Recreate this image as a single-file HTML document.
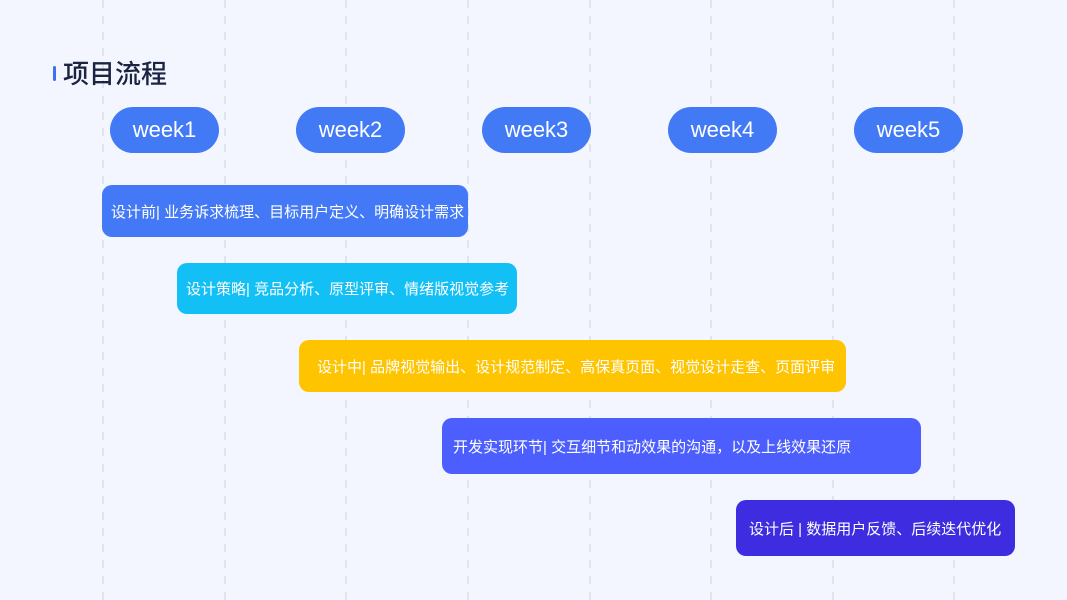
<!DOCTYPE html>
<html><head><meta charset="utf-8"><style>
*{margin:0;padding:0;box-sizing:border-box}
body{width:1067px;height:600px;background:#f3f6fe;position:relative;overflow:hidden;font-family:"Liberation Sans","Noto Sans CJK SC",sans-serif}
.v{position:absolute;top:0;width:1.5px;height:600px;background:repeating-linear-gradient(to bottom,#e1e4ea 0 8px,transparent 8px 16px)}
.t{position:absolute;left:63px;top:57px;font-size:26px;color:#1b2440;font-weight:500;line-height:34px}
.bar{position:absolute;left:53px;top:66px;width:3px;height:15px;border-radius:2px;background:#3d72ee}
.w{position:absolute;top:107px;width:109px;height:46px;border-radius:23px;background:#4279f5;color:#fff;font-size:22px;display:flex;align-items:center;justify-content:center}
.b{position:absolute;border-radius:10px;color:#fff;font-size:15px;display:flex;align-items:center;padding-left:10px;white-space:nowrap}
</style></head><body>
<div class="v" style="left:102px"></div><div class="v" style="left:224px"></div><div class="v" style="left:345px"></div><div class="v" style="left:467px"></div><div class="v" style="left:589px"></div><div class="v" style="left:710px"></div><div class="v" style="left:832px"></div><div class="v" style="left:953px"></div>
<div class="bar"></div><div class="t">项目流程</div>
<div class="w" style="left:110px">week1</div>
<div class="w" style="left:296px">week2</div>
<div class="w" style="left:482px">week3</div>
<div class="w" style="left:668px">week4</div>
<div class="w" style="left:854px">week5</div>
<div class="b" style="left:102px;top:185px;width:366px;height:52px;background:#4379f6;padding-left:9px">设计前| 业务诉求梳理、目标用户定义、明确设计需求</div>
<div class="b" style="left:177px;top:263px;width:340px;height:51px;background:#12c0f6;padding-left:9px">设计策略| 竞品分析、原型评审、情绪版视觉参考</div>
<div class="b" style="left:299px;top:340px;width:547px;height:52px;background:#ffc400;padding-left:18px">设计中| 品牌视觉输出、设计规范制定、高保真页面、视觉设计走查、页面评审</div>
<div class="b" style="left:442px;top:418px;width:479px;height:56px;background:#4c5ffe;padding-left:11px">开发实现环节| 交互细节和动效果的沟通，以及上线效果还原</div>
<div class="b" style="left:736px;top:500px;width:279px;height:56px;background:#3e2de0;padding-left:13px">设计后 | 数据用户反馈、后续迭代优化</div>
</body></html>
